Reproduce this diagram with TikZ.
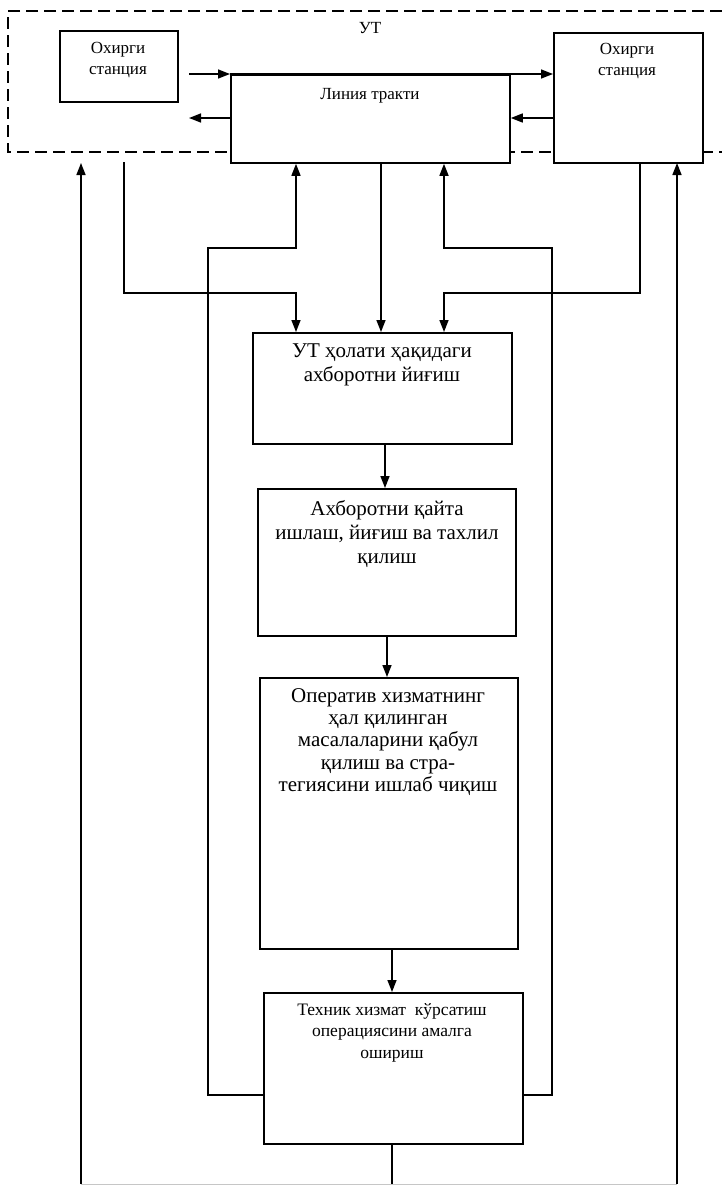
\documentclass[tikz,border=0pt]{standalone}
\usepackage{fontspec}
\setmainfont{Liberation Serif}
\usetikzlibrary{arrows.meta}
\begin{document}
\begin{tikzpicture}[x=1pt,y=-1pt,
  box/.style={draw,line width=1.8pt,fill=white,inner sep=0pt,anchor=north west},
  bigtxt/.style={inner sep=0pt,anchor=north,align=center,font=\fontsize{21}{24}\selectfont},
  midtxt/.style={inner sep=0pt,anchor=north,align=center,font=\fontsize{17.5}{21.5}\selectfont},
  smalltxt/.style={inner sep=0pt,anchor=north,align=center,font=\fontsize{17}{21}\selectfont},
  arr/.style={-{Triangle[length=12pt,width=9pt]},line width=1.5pt},
  conn/.style={line width=1.5pt},
  ut/.style={dash pattern=on 12pt off 6pt,line width=1.6pt}
]
\useasboundingbox (0,0) rectangle (722,1186);
\fill[white] (0,0) rectangle (722,1186);

% dashed boundary of the transmission system
\draw[ut] (740,11) -- (8,11) -- (8,152) -- (740,152);
\node[smalltxt] (utlabel) at (370,22) {УТ};

% top boxes
\node[box,minimum width=118pt,minimum height=71pt] (lst) at (59,30) {};
\node[smalltxt] (lstt) at (118,42) {Охирги\\станция};
\node[box,minimum width=279pt,minimum height=88pt] (lt) at (230,74) {};
\node[smalltxt] (ltt) at (370,88) {Линия тракти};
\node[box,minimum width=149pt,minimum height=130pt] (rst) at (553,32) {};
\node[smalltxt] (rstt) at (627,43) {Охирги\\станция};

% lower boxes
\node[box,minimum width=259pt,minimum height=111pt] (b1) at (252,332) {};
\node[bigtxt] (b1t) at (382,344) {УТ ҳолати ҳақидаги\\ахборотни йиғиш};
\node[box,minimum width=258pt,minimum height=147pt] (b2) at (257,488) {};
\node[bigtxt] (b2t) at (387,500) {Ахборотни қайта\\ишлаш, йиғиш ва тахлил\\қилиш};
\node[box,minimum width=258pt,minimum height=271pt] (b3) at (259,677) {};
\node[bigtxt,font=\fontsize{21}{22.3}\selectfont] (b3t) at (388,688) {Оператив хизматнинг\\ҳал қилинган\\масалаларини қабул\\қилиш ва стра-\\тегиясини ишлаб чиқиш};
\node[box,minimum width=259pt,minimum height=151pt] (b4) at (263,992) {};
\node[midtxt] (b4t) at (392,1003) {Техник хизмат\ \ кўрсатиш\\операциясини амалга\\ошириш};

% named x positions and free ends
\coordinate (xA) at (81,0);
\coordinate (xB) at (124,0);
\coordinate (xC) at (208,0);
\coordinate (xD) at (296,0);
\coordinate (xE) at (381,0);
\coordinate (xF) at (444,0);
\coordinate (xG) at (552,0);
\coordinate (xH) at (640,0);
\coordinate (xI) at (677,0);
\coordinate (lin) at (189,74);
\coordinate (lout) at (189,118);
\coordinate (fl) at (124,162);
\coordinate (tl) at (81,163);
\coordinate (tr) at (677,163);
\coordinate (bl) at (81,1184);
\coordinate (br) at (677,1184);
\coordinate (bc) at (392,1184);

% top arrows
\draw[arr] (lin) -- (lt.north west);
\draw[arr] (lt.north west) -- (rst.west |- lt.north);
\draw[arr] (lt.west |- lout) -- (lout);
\draw[arr] (rst.west |- lout) -- (lt.east |- lout);

% feeds into the information-gathering box
\draw[arr] (fl) -- (124,293) -- (296,293) -- (b1.north -| xD);
\draw[arr] (lt.south -| xE) -- (b1.north -| xE);
\draw[arr] (rst.south -| xH) -- (640,293) -- (444,293) -- (b1.north -| xF);

% feedback from the maintenance box to the line path
\draw[arr] (b4.west |- 0,1095) -- (208,1095) -- (208,248) -- (296,248) -- (lt.south -| xD);
\draw[arr] (b4.east |- 0,1095) -- (552,1095) -- (552,248) -- (444,248) -- (lt.south -| xF);

% chain of boxes
\draw[arr] (b1.south -| 385,0) -- (b2.north -| 385,0);
\draw[arr] (b2.south -| 387,0) -- (b3.north -| 387,0);
\draw[arr] (b3.south -| 392,0) -- (b4.north -| 392,0);

% bottom return to the end stations
\draw[conn] (b4.south -| bc) -- (bc);
\draw[gray!45,line width=1pt] (bl) -- (br);
\draw[arr] (bl) -- (tl);
\draw[arr] (br) -- (tr);
\end{tikzpicture}
\end{document}
